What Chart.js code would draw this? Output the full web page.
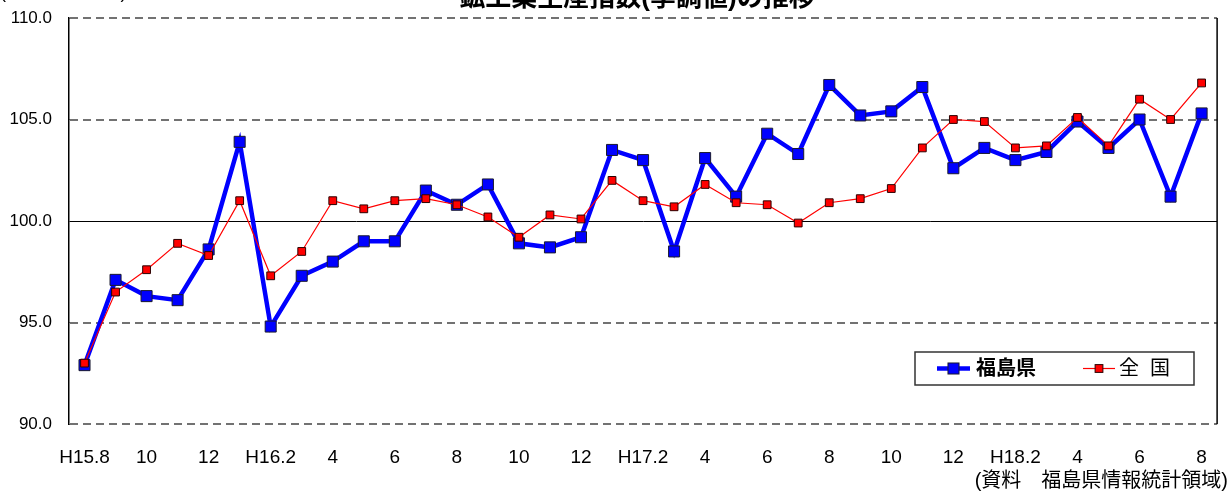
<!DOCTYPE html>
<html>
<head>
<meta charset="utf-8">
<script src="https://cdn.jsdelivr.net/npm/chart.js@4.4.0/dist/chart.umd.min.js"></script>
<style>
  html, body { margin: 0; padding: 0; background: #fff; }
  #wrap { width: 1229px; height: 493px; position: relative; }
</style>
</head>
<body>
<div id="wrap"><canvas id="chart"></canvas></div>
<script>
// months H15.8 .. H18.8
var months = ["H15.8", "H15.9", "H15.10", "H15.11", "H15.12",
    "H16.1", "H16.2", "H16.3", "H16.4", "H16.5", "H16.6", "H16.7", "H16.8", "H16.9", "H16.10", "H16.11", "H16.12",
    "H17.1", "H17.2", "H17.3", "H17.4", "H17.5", "H17.6", "H17.7", "H17.8", "H17.9", "H17.10", "H17.11", "H17.12",
    "H18.1", "H18.2", "H18.3", "H18.4", "H18.5", "H18.6", "H18.7", "H18.8"];

// labels written under the axis (every second month)
var tickLabels = ["H15.8", "", "10", "", "12",
    "", "H16.2", "", "4", "", "6", "", "8", "", "10", "", "12",
    "", "H17.2", "", "4", "", "6", "", "8", "", "10", "", "12",
    "", "H18.2", "", "4", "", "6", "", "8"];

var fukushima = [92.9, 97.1, 96.3, 96.1, 98.6,
    103.9, 94.8, 97.3, 98.0, 99.0, 99.0, 101.5, 100.8, 101.8, 98.9, 98.7, 99.2,
    103.5, 103.0, 98.5, 103.1, 101.2, 104.3, 103.3, 106.7, 105.2, 105.4, 106.6, 102.6,
    103.6, 103.0, 103.4, 104.9, 103.6, 105.0, 101.2, 105.3];

var zenkoku = [93.0, 96.5, 97.6, 98.9, 98.3,
    101.0, 97.3, 98.5, 101.0, 100.6, 101.0, 101.1, 100.8, 100.2, 99.2, 100.3, 100.1,
    102.0, 101.0, 100.7, 101.8, 100.9, 100.8, 99.9, 100.9, 101.1, 101.6, 103.6, 105.0,
    104.9, 103.6, 103.7, 105.1, 103.7, 106.0, 105.0, 106.8];

var yTicks = [90, 95, 100, 105, 110];

var title = "鉱工業生産指数(季調値)の推移";
var unitNote = "(平成12年=100)";
var sourceNote = "(資料　福島県情報統計領域)";

var FONT = "'Liberation Sans', Arial, 'Noto Sans CJK JP', sans-serif";

// title, notes and the legend box inside the plot
var extras = {
    id: 'extras',
    afterDraw: function(chart) {
        var ctx = chart.ctx;
        ctx.save();
        ctx.fillStyle = '#000';
        ctx.textBaseline = 'alphabetic';
        ctx.textAlign = 'center';
        ctx.font = "bold 26px " + FONT;
        ctx.fillText(title, 637, 6);
        ctx.textAlign = 'left';
        ctx.font = "18px " + FONT;
        ctx.fillText(unitNote, 0, -2);
        ctx.textAlign = 'right';
        ctx.textBaseline = 'middle';
        ctx.font = "20px " + FONT;
        ctx.fillText(sourceNote, 1228, 481);

        // legend
        var bx = 915, by = 352, bw = 279, bh = 33;
        ctx.fillStyle = '#fff';
        ctx.fillRect(bx, by, bw, bh);
        ctx.strokeStyle = '#333';
        ctx.lineWidth = 1.5;
        ctx.strokeRect(bx, by, bw, bh);
        var cy = by + bh / 2;
        var items = [
            {x: 937, w: 33, tx: 976, bold: true},
            {x: 1083, w: 32, tx: 1119, bold: false}
        ];
        chart.data.datasets.forEach(function(ds, i) {
            var it = items[i];
            ctx.strokeStyle = ds.borderColor;
            ctx.lineWidth = ds.borderWidth;
            ctx.beginPath();
            ctx.moveTo(it.x, cy);
            ctx.lineTo(it.x + it.w, cy);
            ctx.stroke();
            var s = ds.pointRadius * Math.SQRT2;
            ctx.fillStyle = ds.pointBackgroundColor;
            ctx.fillRect(it.x + it.w / 2 - s / 2, cy - s / 2, s, s);
            ctx.strokeStyle = ds.pointBorderColor;
            ctx.lineWidth = 1;
            ctx.strokeRect(it.x + it.w / 2 - s / 2, cy - s / 2, s, s);
            ctx.fillStyle = '#000';
            ctx.textAlign = 'left';
            ctx.font = (it.bold ? "bold " : "") + "20px " + FONT;
            ctx.fillText(ds.label, it.tx, cy + 1);
        });
        ctx.restore();
    }
};

var ctx = document.getElementById('chart').getContext('2d');
var chart = new Chart(ctx, {
    type: 'line',
    data: {
        labels: months,
        datasets: [{
            label: '福島県',
            data: fukushima,
            borderColor: '#0000ff',
            borderWidth: 4.5,
            pointStyle: 'rect',
            pointRadius: 7.8,
            pointBackgroundColor: '#0000ff',
            pointBorderColor: '#1a1a2e',
            pointBorderWidth: 1,
            tension: 0,
            order: 2
        }, {
            label: '全  国',
            data: zenkoku,
            borderColor: '#ff0000',
            borderWidth: 1.2,
            pointStyle: 'rect',
            pointRadius: 5.5,
            pointBackgroundColor: '#ff0000',
            pointBorderColor: '#2a0000',
            pointBorderWidth: 1,
            tension: 0,
            order: 1
        }]
    },
    options: {
        responsive: true,
        maintainAspectRatio: false,
        animation: false,
        layout: { padding: { left: 0, right: 2, top: 18, bottom: 0 } },
        plugins: {
            legend: { display: false },
            tooltip: { enabled: false }
        },
        scales: {
            x: {
                offset: true,
                grid: { display: false, drawTicks: false },
                border: { display: false },
                afterFit: function(scale) { scale.height = 69; },
                ticks: {
                    autoSkip: false,
                    maxRotation: 0,
                    padding: 22,
                    color: '#000',
                    font: { family: FONT, size: 19 },
                    callback: function(v, i) { return tickLabels[i]; }
                }
            },
            y: {
                min: 90,
                max: 110,
                afterFit: function(scale) {
                    scale.width = 69;
                    scale.paddingTop = 0;
                    scale.paddingBottom = 0;
                },
                afterBuildTicks: function(scale) {
                    scale.ticks = yTicks.map(function(v) { return {value: v}; });
                },
                border: { display: true, color: '#000', width: 1.5 },
                grid: {
                    drawTicks: false,
                    color: '#000',
                    lineWidth: 1
                },
                ticks: {
                    padding: 17,
                    color: '#000',
                    font: { family: FONT, size: 17 },
                    callback: function(v) { return Number(v).toFixed(1); }
                }
            }
        }
    },
    plugins: [{
        id: 'gridStyle',
        beforeDatasetsDraw: function(chart) {
            // dashed lines drawn on top of the default grid, 100 stays solid
            var c = chart.ctx, a = chart.chartArea, y = chart.scales.y;
            c.save();
            c.fillStyle = '#fff';
            yTicks.forEach(function(v) {
                if (v === 100) return;
                var py = Math.round(y.getPixelForValue(v));
                c.fillRect(a.left + 1, py - 2, a.right - a.left - 1, 4);
                c.strokeStyle = '#444';
                c.lineWidth = 1.5;
                c.setLineDash([8, 5]);
                c.beginPath();
                c.moveTo(a.left + 1, py);
                c.lineTo(a.right, py);
                c.stroke();
            });
            c.setLineDash([]);
            c.strokeStyle = '#000';
            c.lineWidth = 1.5;
            c.beginPath();
            c.moveTo(a.right, a.top);
            c.lineTo(a.right, a.bottom);
            c.stroke();
            c.restore();
        }
    }, extras]
});
</script>
</body>
</html>
